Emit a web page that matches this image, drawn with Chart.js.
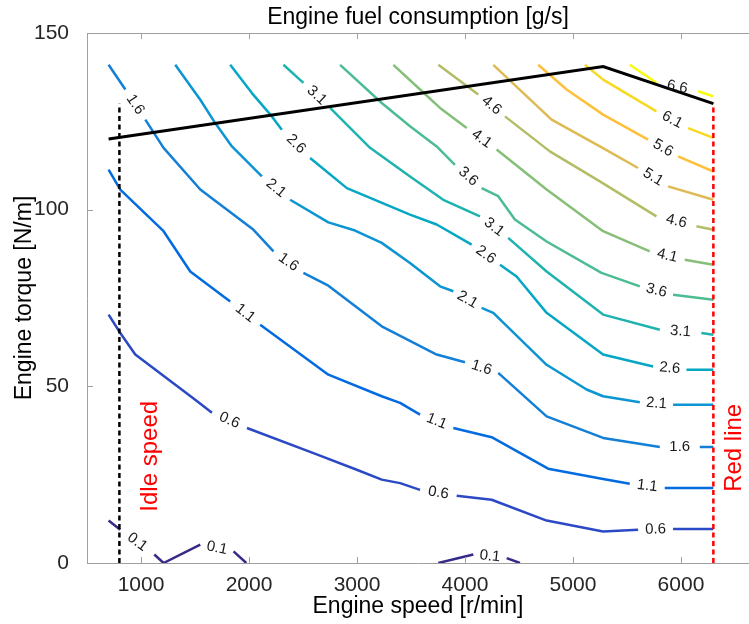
<!DOCTYPE html>
<html>
<head>
<meta charset="utf-8">
<script src="https://cdn.jsdelivr.net/npm/chart.js@4.4.0/dist/chart.umd.min.js"></script>
<style>
  html, body { margin: 0; padding: 0; background: #fff; }
</style>
</head>
<body>
<canvas id="myChart" width="749" height="624"></canvas>
<script>
// contour levels of fuel consumption [g/s]
const levels = [0.1, 0.6, 1.1, 1.6, 2.1, 2.6, 3.1, 3.6, 4.1, 4.6, 5.1, 5.6, 6.1, 6.6];

// contour lines as [speed r/min, torque N/m]; null = gap where the level label sits
const c01a = [[700,12],[808,9.4],null,[1123,2.4],[1209,0],[1549,5.2],null,[1857,3.3],[1975,0]];
const c01b = [[3753,0],[4077,2.4],null,[4386,1.4],[4509,0]];
const c06 = [[700,70.3],[808,65.1],[947,59],[1502,46.2],[1657,42.5],null,[1981,38.2],[2597,31.1],[2998,26.4],[3229,23.6],[3399,22.6],[3584,20.7],null,[3923,19],[4247,17.9],[4756,12],[5279,8.9],[5603,9.4],null,[5927,9.6],[6300,9.6]];
const c11 = [[700,111.3],[808,105.7],[1209,93.9],[1456,82.5],[1826,74],null,[2104,67.4],[2735,53.3],[3229,47.2],[3399,45.3],[3584,42],null,[3892,38.2],[4247,35.6],[4770,26.7],[5279,23.8],[5526,22.4],null,[5850,21.2],[6300,21.2]];
const c16 = [[700,141],[855,134],null,[1040,125.5],[1209,117.5],[1549,105.7],[2042,94.3],[2227,88.2],null,[2504,82.1],[2735,78.5],[3229,67],[3738,59],[4000,56.8],null,[4308,53.8],[4756,41.5],[5279,35.4],[5804,32.8],null,[6174,32.8],[6300,32.8]];
const c21 = [[1317,141],[1549,131.1],[1687,124.5],[1842,117.9],[2119,109.4],null,[2381,102.8],[2735,96.4],[2982,94.1],[3229,90.6],[3491,84.9],[3769,78.3],[3892,76.9],null,[4154,72.2],[4262,70.8],[4756,56.1],[5126,49.1],[5279,47.2],[5619,45.5],null,[5927,44.8],[6300,44.8]];
const c26 = [[1826,141],[2027,133],[2212,126.4],[2304,122.6],null,[2566,114.6],[2906,106.1],[3491,98.6],[3738,95.8],[4062,90.1],null,[4324,84.4],[4478,81.1],[4756,70.8],[5279,59],[5742,55.6],null,[6051,54.7],[6300,54.7]];
const c31 = [[2319,141],[2504,135.9],null,[2751,128.8],[3121,117.5],[3491,109.4],[3799,102.8],[4139,98.1],null,[4400,92],[4756,82.5],[5279,70.3],[5804,66],null,[6189,65.1],[6300,64.6]];
const c36 = [[2844,141],[3229,130.2],[3491,123.6],[3738,117.9],[3907,112.7],null,[4154,106.1],[4308,103.8],[4462,97.2],[4756,91],[5264,82.1],[5619,78.3],null,[5927,75.9],[6300,74.5]];
const c41 = [[3337,141],[3584,134],[3769,128.8],[4016,123.1],null,[4293,117],[4756,105.7],[5279,93.9],[5711,88.2],null,[6035,85.8],[6300,84.4]];
const c46 = [[3753,141],[4123,132.6],null,[4370,126.4],[4786,116.5],[5249,108],[5773,98.1],null,[6143,95.3],[6300,94.3]];
const c51 = [[4262,141],[4802,125.5],[5249,117.9],[5603,111.8],null,[5881,106.6],[6300,102.8]];
const c56 = [[4678,141],[4941,134],[5279,126.9],[5695,119.8],null,[5973,115.1],[6300,110.8]];
const c61 = [[5110,141],[5279,136.8],[5773,127.8],null,[6066,123.1],[6300,120.3]];
const c66 = [[5526,141],[5773,135.9],null,[6158,133.5],[6300,132.1]];

// max torque curve, idle speed and red line
const maxTorque = [[700,120],[5280,140.5],[6300,130]];
const idleSpeed = 800;
const redLine = 6300;
const limitTorque = 130;

const xTicks = [1000, 2000, 3000, 4000, 5000, 6000];
const yTicks = [0, 50, 100, 150];

const contourSets = [
  {level: 0.1, pts: c01a}, {level: 0.1, pts: c01b}, {level: 0.6, pts: c06},
  {level: 1.1, pts: c11}, {level: 1.6, pts: c16}, {level: 2.1, pts: c21},
  {level: 2.6, pts: c26}, {level: 3.1, pts: c31}, {level: 3.6, pts: c36},
  {level: 4.1, pts: c41}, {level: 4.6, pts: c46}, {level: 5.1, pts: c51},
  {level: 5.6, pts: c56}, {level: 6.1, pts: c61}, {level: 6.6, pts: c66}
];

// parula colours, one per level
const parula = ['#352a87','#2c49c5','#036be0','#137fd7','#0b95d2','#06a7c5','#1eb3ae',
                '#4cbc92','#85bf78','#b4bd65','#ddba54','#fec03b','#f7d925','#f9fb0e'];

const FONT = '"Liberation Sans", Arial, Helvetica, sans-serif';
const toXY = p => p ? {x: p[0], y: p[1]} : {x: NaN, y: NaN};

const datasets = [];
datasets.push({
  data: maxTorque.map(toXY), showLine: true, borderColor: '#000', borderWidth: 3,
  pointRadius: 0, order: 0
});
datasets.push({
  data: [{x: idleSpeed, y: 0}, {x: idleSpeed, y: limitTorque}], showLine: true,
  borderColor: '#000', borderWidth: 2.5, borderDash: [5, 3.5], pointRadius: 0, order: 1
});
datasets.push({
  data: [{x: redLine, y: 0}, {x: redLine, y: limitTorque}], showLine: true,
  borderColor: '#ff0000', borderWidth: 2.5, borderDash: [5, 3.5], pointRadius: 0, order: 1
});
contourSets.forEach(c => {
  datasets.push({
    data: c.pts.map(toXY), showLine: true, spanGaps: false,
    borderColor: parula[levels.indexOf(c.level)], borderWidth: 2.5,
    borderJoinStyle: 'round', pointRadius: 0, order: 2
  });
});

// level labels, placed in the gaps of each contour
const contourLabels = {
  id: 'contourLabels',
  afterDatasetsDraw(chart) {
    const ctx = chart.ctx, xs = chart.scales.x, ys = chart.scales.y;
    ctx.save();
    ctx.font = '15px ' + FONT;
    ctx.fillStyle = '#1a1a1a';
    ctx.textAlign = 'center';
    ctx.textBaseline = 'middle';
    contourSets.forEach(c => {
      c.pts.forEach((p, i) => {
        if (p !== null) return;
        const a = c.pts[i - 1], b = c.pts[i + 1];
        const x1 = xs.getPixelForValue(a[0]), y1 = ys.getPixelForValue(a[1]);
        const x2 = xs.getPixelForValue(b[0]), y2 = ys.getPixelForValue(b[1]);
        ctx.save();
        ctx.translate((x1 + x2) / 2, (y1 + y2) / 2);
        ctx.rotate(Math.atan2(y2 - y1, x2 - x1));
        ctx.fillText(c.level.toFixed(1), 0, 0);
        ctx.restore();
      });
    });
    // red annotations
    ctx.font = '24px ' + FONT;
    ctx.fillStyle = '#ff0000';
    [['Idle speed', 1086, 30.2], ['Red line', 6494, 32.6]].forEach(t => {
      ctx.save();
      ctx.translate(xs.getPixelForValue(t[1]), ys.getPixelForValue(t[2]));
      ctx.rotate(-Math.PI / 2);
      ctx.fillText(t[0], 0, 0);
      ctx.restore();
    });
    ctx.restore();
  }
};

// top border and inward tick marks
const frame = {
  id: 'frame',
  afterDraw(chart) {
    const ctx = chart.ctx, a = chart.chartArea, xs = chart.scales.x, ys = chart.scales.y;
    ctx.save();
    ctx.strokeStyle = '#a0a0a0';
    ctx.lineWidth = 1;
    ctx.beginPath();
    ctx.moveTo(a.left, a.top + 0.5);
    ctx.lineTo(a.right, a.top + 0.5);
    xTicks.forEach(v => {
      const x = Math.round(xs.getPixelForValue(v)) + 0.5;
      ctx.moveTo(x, a.bottom); ctx.lineTo(x, a.bottom - 6);
      ctx.moveTo(x, a.top); ctx.lineTo(x, a.top + 6);
    });
    yTicks.forEach(v => {
      const y = Math.round(ys.getPixelForValue(v)) + 0.5;
      ctx.moveTo(a.left, y); ctx.lineTo(a.left + 6, y);
    });
    ctx.stroke();
    ctx.restore();
  }
};

const ctx = document.getElementById('myChart');
const myChart = new Chart(ctx, {
  type: 'scatter',
  data: { datasets: datasets },
  plugins: [contourLabels, frame],
  options: {
    responsive: false,
    animation: false,
    devicePixelRatio: 1,
    layout: { padding: { left: 0, right: 0, top: 0, bottom: 0 } },
    plugins: {
      legend: { display: false },
      tooltip: { enabled: false },
      title: {
        display: true,
        fullSize: false,
        text: 'Engine fuel consumption [g/s]',
        color: '#000',
        font: { family: FONT, size: 23, weight: 'normal' },
        padding: { top: 4, bottom: 1.4 }
      }
    },
    scales: {
      x: {
        type: 'linear', min: 500, max: 6630,
        afterBuildTicks: s => { s.ticks = xTicks.map(v => ({value: v})); },
        afterFit: s => { s.height = 61; },
        grid: { display: false },
        border: { color: '#a0a0a0', width: 1 },
        ticks: { color: '#262626', font: { family: FONT, size: 21 }, padding: 2,
                 maxRotation: 0, callback: v => String(v) },
        title: { display: true, text: 'Engine speed [r/min]', color: '#000',
                 font: { family: FONT, size: 23 }, padding: { top: 0, bottom: 4 } }
      },
      y: {
        type: 'linear', min: 0, max: 150,
        afterBuildTicks: s => { s.ticks = yTicks.map(v => ({value: v})); },
        afterFit: s => { s.width = 87; },
        grid: { display: false },
        border: { color: '#a0a0a0', width: 1 },
        ticks: { color: '#262626', font: { family: FONT, size: 21 }, padding: 10 },
        title: { display: true, text: 'Engine torque [N/m]', color: '#000',
                 font: { family: FONT, size: 23 }, padding: { top: 11, bottom: 0 } }
      }
    }
  }
});
</script>
</body>
</html>
